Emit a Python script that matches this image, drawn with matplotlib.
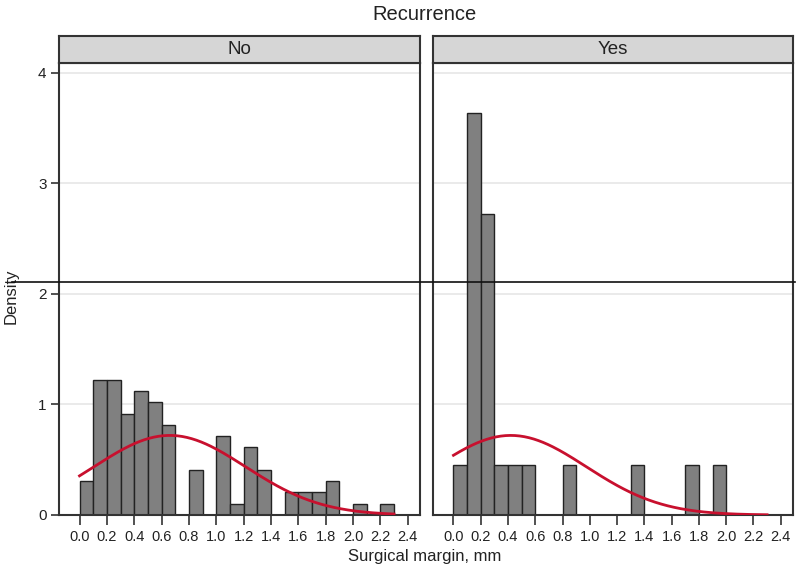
import numpy as np
import matplotlib
matplotlib.use("Agg")
import matplotlib.pyplot as plt
from matplotlib.lines import Line2D

plt.rcParams['font.family'] = ['Liberation Sans Narrow', 'Liberation Sans', 'DejaVu Sans']

# Histogram data (bin width 0.1, starting at 0.0), density values
bin_edges = np.round(np.arange(0.0, 2.31, 0.1), 2)
dens_no = [0.306, 1.224, 1.224, 0.918, 1.122, 1.020, 0.816, 0.0, 0.408, 0.0,
           0.714, 0.102, 0.612, 0.408, 0.0, 0.204, 0.204, 0.204, 0.306, 0.0,
           0.102, 0.0, 0.102]
dens_yes = [0.455, 3.636, 2.727, 0.455, 0.455, 0.455, 0.0, 0.0, 0.455, 0.0,
            0.0, 0.0, 0.0, 0.455, 0.0, 0.0, 0.0, 0.455, 0.0, 0.455,
            0.0, 0.0, 0.0]

# Normal density overlay parameters (mean, sd, range) per group
norm_no = (0.66, 0.554, 0.0, 2.3)
norm_yes = (0.42, 0.554, 0.0, 2.3)

panels = ["No", "Yes"]
x_ticks = [0.0, 0.2, 0.4, 0.6, 0.8, 1.0, 1.2, 1.4, 1.6, 1.8, 2.0, 2.2, 2.4]
y_ticks = [0, 1, 2, 3, 4]

fig = plt.figure(figsize=(8, 5.72), dpi=100)
W, H = 800, 572

def box(x0, y0, x1, y1):
    return [x0 / W, 1 - y1 / H, (x1 - x0) / W, (y1 - y0) / H]

panel_x = [(59, 420), (433, 793)]
frame_col = "#333333"
text_col = "#222222"

for i, (name, dens, nrm) in enumerate(zip(panels, [dens_no, dens_yes], [norm_no, norm_yes])):
    x0, x1 = panel_x[i]
    ax = fig.add_axes(box(x0, 63, x1, 515))
    ax.set_xlim(-0.15, 2.49)
    ax.set_ylim(0, 4.09)
    for yt in y_ticks[1:]:
        ax.axhline(yt, color="#e6e6e6", lw=1.2, zorder=0)
    ax.bar(bin_edges[:-1], dens, width=0.1, align="edge",
           color="#808080", edgecolor="#222222", linewidth=1.0, zorder=2)
    m, s, lo, hi = nrm
    xs = np.linspace(lo, hi, 200)
    ax.plot(xs, np.exp(-(xs - m) ** 2 / (2 * s ** 2)) / (s * np.sqrt(2 * np.pi)),
            color="#c8102e", lw=2.0, zorder=3)
    ax.set_xticks(x_ticks)
    ax.set_xticklabels([f"{t:.1f}" for t in x_ticks], fontsize=10.5, color=text_col)
    ax.set_yticks(y_ticks)
    if i == 0:
        ax.set_yticklabels([str(t) for t in y_ticks], fontsize=11, color=text_col)
        ax.tick_params(axis="y", length=6, width=1.2, color=frame_col, pad=3)
    else:
        ax.tick_params(axis="y", length=0, labelleft=False)
    ax.tick_params(axis="x", length=7, width=1.2, color=frame_col, pad=4)
    for sp in ax.spines.values():
        sp.set_color(frame_col)
        sp.set_linewidth(1.5)

    # strip header
    sx = fig.add_axes(box(x0, 36, x1, 63))
    sx.set_facecolor("#d6d6d6")
    sx.set_xticks([])
    sx.set_yticks([])
    for sp in sx.spines.values():
        sp.set_color(frame_col)
        sp.set_linewidth(1.5)
    sx.text(0.5, 0.5, name, ha="center", va="center", fontsize=13.5,
            color=text_col, transform=sx.transAxes)

fig.text(425 / W, 1 - 14 / H, "Recurrence", ha="center", va="center",
         fontsize=14.5, color=text_col)
fig.text(425 / W, 1 - 556 / H, "Surgical margin, mm", ha="center", va="center",
         fontsize=12, color=text_col)
fig.text(11 / W, 1 - 296 / H, "Density", ha="center", va="center",
         rotation=90, fontsize=12, color=text_col)

# stray horizontal rule across the figure, as in the source image
fig.add_artist(Line2D([12 / W, 795 / W], [1 - 282 / H, 1 - 282 / H],
                      color="#111111", lw=1.2, transform=fig.transFigure, zorder=10))

fig.savefig("out.png", dpi=100)
